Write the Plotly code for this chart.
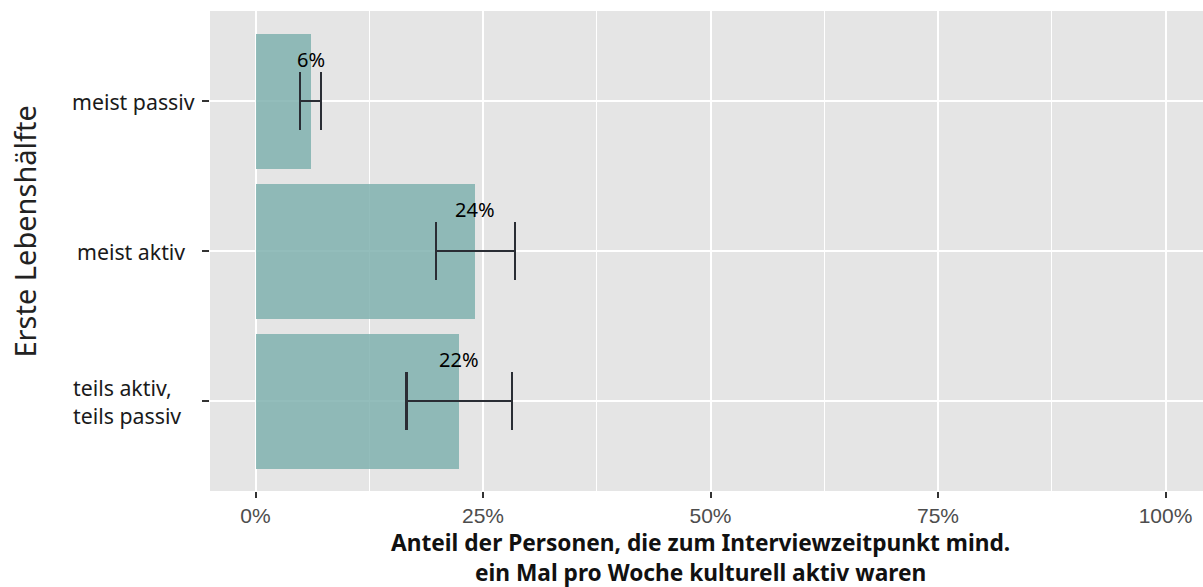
import plotly.graph_objects as go

categories = ["meist passiv", "meist aktiv", "teils aktiv, teils passiv"]
cat_labels = ["meist passiv", "meist aktiv", "teils aktiv,<br>teils passiv"]
values = [6.1, 24.1, 22.4]
err_low = [4.9, 19.8, 16.6]
err_high = [7.2, 28.5, 28.2]
value_labels = ["6%", "24%", "22%"]
x_ticks = [0, 25, 50, 75, 100]
x_ticklabels = ["0%", "25%", "50%", "75%", "100%"]

ypos = list(range(len(categories)))

fig = go.Figure()
fig.add_trace(go.Bar(
    y=ypos, x=values, orientation="h", width=0.9,
    marker=dict(color="rgba(128,177,175,0.85)", line=dict(width=0)),
    error_x=dict(type="data", symmetric=False,
                 array=[h - v for h, v in zip(err_high, values)],
                 arrayminus=[v - l for l, v in zip(err_low, values)],
                 color="#2A2D34", thickness=2.2, width=29),
    hoverinfo="skip", showlegend=False,
))

annotations = []
for y, v, t in zip(ypos, values, value_labels):
    annotations.append(dict(x=v, y=y, xref="x", yref="y", text=t, showarrow=False,
                            yshift=42, font=dict(family="Noto Sans", size=20, color="#000000")))

label_shifts = [-13, -23, -27]
for y, lab, sh in zip(ypos, cat_labels, label_shifts):
    annotations.append(dict(x=0, y=y, xref="paper", yref="y", text=lab, showarrow=False,
                            xanchor="right", align="left", xshift=sh,
                            font=dict(family="Noto Sans", size=21.3, color="#1a1a1a")))

annotations.append(dict(x=-0.1863, y=0.5406, xref="paper", yref="paper",
                        text="Erste Lebenshälfte", textangle=-90, showarrow=False,
                        xanchor="center", yanchor="middle",
                        font=dict(family="Noto Sans", size=29, color="#222222")))

annotations.append(dict(x=0.494, y=-0.1385, xref="paper", yref="paper",
                        text="<b>Anteil der Personen, die zum Interviewzeitpunkt mind.<br>ein Mal pro Woche kulturell aktiv waren</b>",
                        showarrow=False, xanchor="center", yanchor="middle", align="center",
                        font=dict(family="Noto Sans", size=22.7, color="#111111")))

fig.update_layout(
    width=1203, height=587,
    margin=dict(l=210, r=0, t=11, b=96, autoexpand=False),
    paper_bgcolor="white", plot_bgcolor="#E5E5E5",
    annotations=annotations,
    bargap=0,
)
fig.update_xaxes(
    range=[-5, 104.12], tickvals=x_ticks, ticktext=x_ticklabels,
    showgrid=True, gridcolor="white", gridwidth=2,
    minor=dict(tickvals=[12.5, 37.5, 62.5, 87.5], showgrid=True, gridcolor="white", gridwidth=1, ticks=""),
    ticks="outside", ticklen=6, tickwidth=2, tickcolor="#333333",
    tickfont=dict(family="Liberation Sans", size=21, color="#4D4D4D"),
    zeroline=False, showline=False,
)
fig.update_yaxes(
    range=[2.6, -0.6], tickvals=ypos, ticktext=["", "", ""],
    showgrid=True, gridcolor="white", gridwidth=2,
    ticks="outside", ticklen=7, tickwidth=2, tickcolor="#333333",
    zeroline=False, showline=False,
)

fig.write_html("out.html", config={"displayModeBar": False},
               post_script="document.body.style.margin='0';document.body.style.overflow='hidden';")
